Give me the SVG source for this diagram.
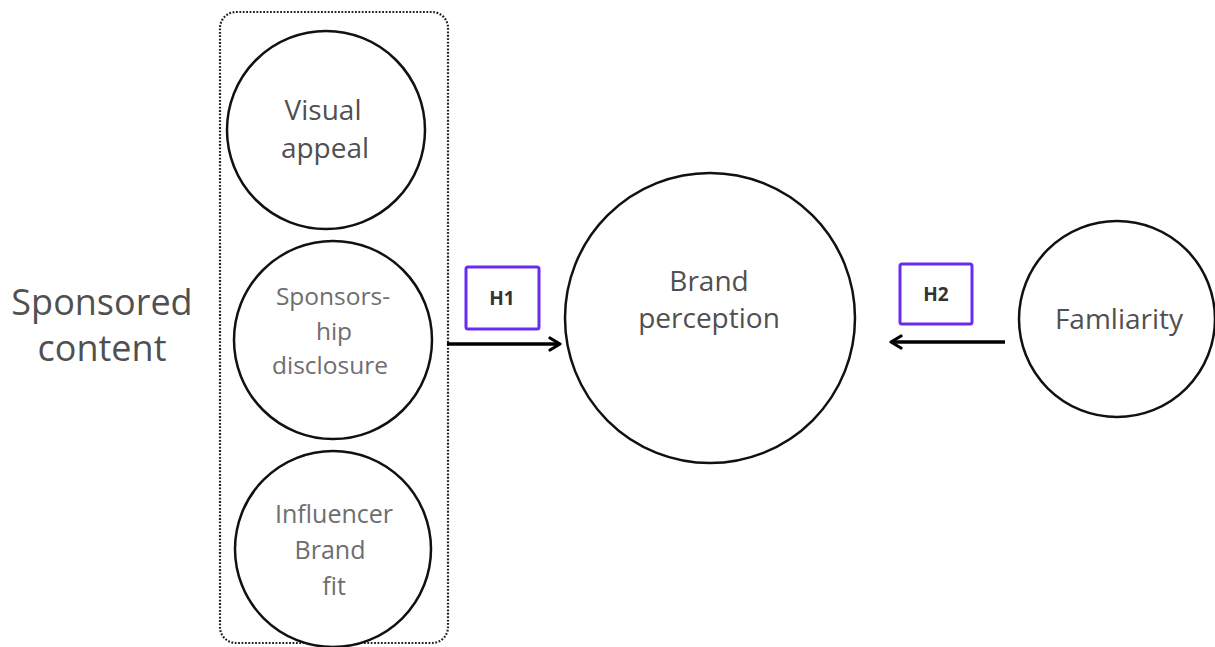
<svg xmlns="http://www.w3.org/2000/svg" width="1215" height="647" viewBox="0 0 1215 647">
  <defs>
    <marker id="chev" viewBox="0 0 14 16" refX="12" refY="8" markerWidth="14" markerHeight="16" markerUnits="userSpaceOnUse" orient="auto">
      <path d="M2,2 L12,8 L2,14" fill="none" stroke="#000" stroke-width="3.2" stroke-linecap="round" stroke-linejoin="round"/>
    </marker>
    <style>
      .node { fill: #fff; stroke: #111; stroke-width: 2.5; }
      .label { font-family: "Open Sans", "Noto Sans", sans-serif; text-anchor: middle; fill: #505050; }
      .light { fill: #6e6e6e; }
      .hbox { fill: #fff; stroke: #6a2cf0; stroke-width: 3; }
      .htext { font-family: "Open Sans", "Noto Sans", sans-serif; font-weight: bold; font-size: 19px; text-anchor: middle; fill: #333; }
      .edge { stroke: #000; stroke-width: 3.5; fill: none; marker-end: url(#chev); }
    </style>
  </defs>
  <rect width="1215" height="647" fill="#fff"/>

  <!-- group frame around the sponsored-content constructs -->
  <g id="sponsored-content">
    <rect x="220" y="12" width="228" height="631" rx="16" ry="16" fill="none" stroke="#222" stroke-width="2.2" stroke-dasharray="1.8 1.6"/>
    <text class="label" font-size="36" x="102" y="315" fill="#484848">Sponsored</text>
    <text class="label" font-size="36" x="102" y="361" fill="#484848">content</text>
  </g>

  <g id="visual-appeal">
    <circle class="node" cx="326" cy="130" r="99"/>
    <text class="label" font-size="28" x="323" y="120">Visual</text>
    <text class="label" font-size="28" x="325" y="158">appeal</text>
  </g>

  <g id="sponsorship-disclosure">
    <circle class="node" cx="333" cy="340" r="99"/>
    <text class="label light" font-size="24.5" x="333" y="305">Sponsors-</text>
    <text class="label light" font-size="24.5" x="334" y="340">hip</text>
    <text class="label light" font-size="24.5" x="330" y="374">disclosure</text>
  </g>

  <g id="influencer-brand-fit">
    <circle class="node" cx="333" cy="549" r="98"/>
    <text class="label light" font-size="25" x="334" y="523">Influencer</text>
    <text class="label light" font-size="25" x="330" y="559">Brand</text>
    <text class="label light" font-size="25" x="334" y="595">fit</text>
  </g>

  <g id="brand-perception">
    <circle class="node" cx="710" cy="318" r="145"/>
    <text class="label" font-size="28" x="709" y="291">Brand</text>
    <text class="label" font-size="28" x="709" y="328">perception</text>
  </g>

  <g id="familiarity">
    <circle class="node" cx="1117" cy="319" r="98"/>
    <text class="label" font-size="28" x="1119" y="329">Famliarity</text>
  </g>

  <g id="h1">
    <rect class="hbox" x="466" y="267" width="73" height="62" rx="2"/>
    <text class="htext" x="502" y="305">H1</text>
  </g>

  <g id="h2">
    <rect class="hbox" x="900" y="264" width="72" height="60" rx="2"/>
    <text class="htext" x="936" y="301">H2</text>
  </g>

  <g id="connectors">
    <line class="edge" x1="447" y1="344" x2="560" y2="344"/>
    <line class="edge" x1="1005" y1="342" x2="891" y2="342"/>
  </g>
</svg>
